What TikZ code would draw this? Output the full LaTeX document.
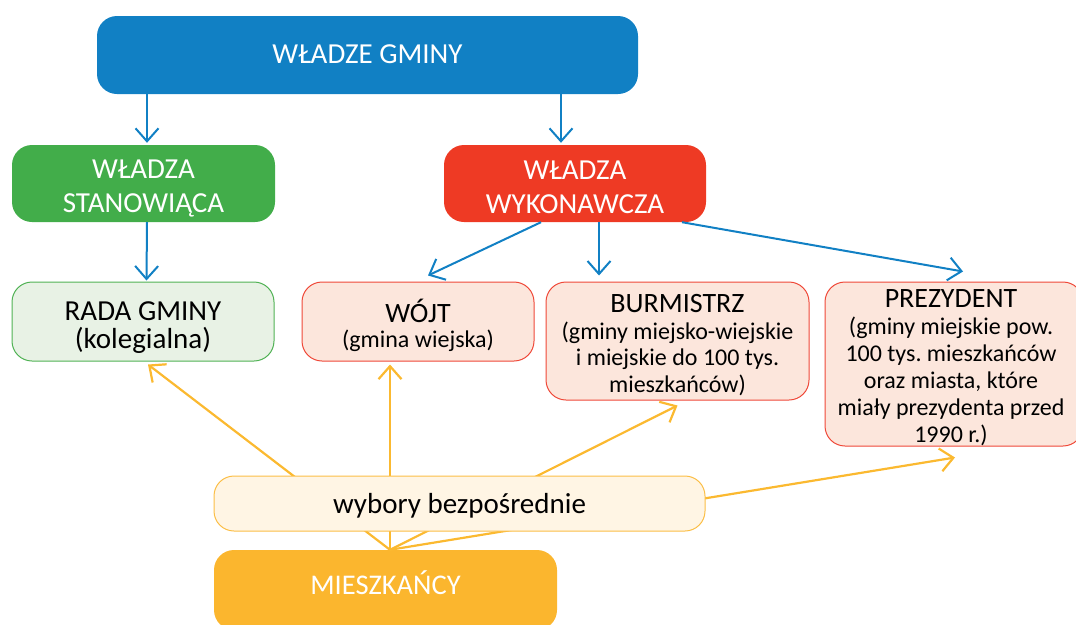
\documentclass[tikz,border=0pt]{standalone}
\usepackage{fontspec}
\setmainfont{Carlito}
\usetikzlibrary{arrows.meta,calc}
\definecolor{gminablue}{RGB}{17,128,196}
\definecolor{stangreen}{RGB}{66,173,74}
\definecolor{wykred}{RGB}{238,58,36}
\definecolor{mieszorange}{RGB}{251,182,46}
\definecolor{radafill}{RGB}{232,242,229}
\definecolor{radaline}{RGB}{80,178,84}
\definecolor{wykfill}{RGB}{252,230,220}
\definecolor{wykline}{RGB}{239,72,56}
\definecolor{wybfill}{RGB}{255,245,228}
\definecolor{wybline}{RGB}{251,190,70}
\definecolor{votearrow}{RGB}{251,185,48}
\newcommand{\titlefont}{\fontsize{29}{34}\selectfont}
\newcommand{\namefont}{\fontsize{28}{30}\selectfont}
\newcommand{\notefont}{\fontsize{24}{26.4}\selectfont}
\tikzset{
  solidbox/.style={rounded corners=20pt, inner sep=0pt},
  organbox/.style={rounded corners=20pt, inner sep=0pt, line width=1pt},
  whitetext/.style={align=center, inner sep=0pt, text=white, font=\titlefont},
  blacktext/.style={align=center, inner sep=0pt, text=black, font=\notefont},
  govarrow/.style={draw=gminablue, line width=2pt,
    -{Straight Barb[length=13pt,width=23pt,line width=2pt]}},
  votearrowline/.style={draw=votearrow, line width=2.2pt,
    -{Straight Barb[length=13pt,width=23pt,line width=2.2pt]}},
}
\begin{document}
\frenchspacing
\begin{tikzpicture}[x=1pt,y=-1pt]
\useasboundingbox (0,0) rectangle (1076,624);
\clip (0,0) rectangle (1076,624);

% upper level
\node[solidbox, fill=gminablue, minimum width=541pt, minimum height=78pt]
  (wladze) at (367.5,55) {};
\node[whitetext] (wladze-text) at ($(wladze)+(0,-1)$) {WŁADZE GMINY};
\node[solidbox, fill=stangreen, minimum width=263pt, minimum height=77pt]
  (stan) at (143.5,183.5) {};
\node[whitetext] (stan-text) at ($(stan)+(0,5)$) {WŁADZA\\STANOWIĄCA};
\node[solidbox, fill=wykred, minimum width=262pt, minimum height=77pt]
  (wyk) at (575,183.5) {};
\node[whitetext] (wyk-text) at ($(wyk)+(0,4)$) {WŁADZA\\WYKONAWCZA};

% organs
\node[organbox, fill=radafill, draw=radaline, minimum width=262pt, minimum height=79pt]
  (rada) at (143,321.5) {};
\node[blacktext, font=\fontsize{29}{28}\selectfont] (rada-text) at ($(rada)+(0,6)$)
  {RADA GMINY\\(kolegialna)};
\node[organbox, fill=wykfill, draw=wykline, minimum width=232pt, minimum height=79pt]
  (wojt) at (418,321.5) {};
\node[blacktext] (wojt-text) at ($(wojt)+(0,4)$)
  {\namefont WÓJT\\[-1pt](gmina wiejska)};
\node[organbox, fill=wykfill, draw=wykline, minimum width=263pt, minimum height=118pt]
  (burm) at (677.5,341) {};
\node[blacktext] (burm-text) at ($(burm)+(0,4)$)
  {\namefont BURMISTRZ\\(gminy miejsko-wiejskie\\i miejskie do 100 tys.\\mieszkańców)};
\node[organbox, fill=wykfill, draw=wykline, minimum width=258pt, minimum height=164pt]
  (prez) at (954,364) {};
\node[blacktext, font=\fontsize{24}{27}\selectfont] (prez-text) at ($(prez)+(-3,4)$)
  {\namefont PREZYDENT\\(gminy miejskie pow.\\100 tys. mieszkańców\\oraz miasta, które\\miały prezydenta przed\\1990 r.)};

% residents
\node[solidbox, fill=mieszorange, minimum width=343pt, minimum height=80pt]
  (mieszk) at (385.5,590) {};
\node[whitetext, font=\fontsize{28.5}{34}\selectfont] (mieszk-text) at (385.5,583)
  {MIESZKAŃCY};
\coordinate (src) at ([xshift=4.5pt]mieszk.north);

% structure of authority
\draw[govarrow] ($(stan.north |- wladze.south)+(3.5,0)$) -- ($(stan.north)+(3.5,-2)$);
\draw[govarrow] ($(wyk.north |- wladze.south)+(-14,0)$) -- ($(wyk.north)+(-14,-2)$);
\draw[govarrow] ($(stan.south)+(3.5,0)$) -- ($(rada.north)+(3.5,-1)$);
\draw[govarrow] ($(wyk.south)+(-34,0)$) -- ($(wojt.north)+(10,-6)$);
\draw[govarrow] ($(wyk.south)+(24,0)$) -- ($(wyk.south |- burm.north)+(24,-6)$);
\draw[govarrow] ($(wyk.south)+(107,0)$) -- ($(prez.north)+(9,-10)$);

% direct elections
\draw[votearrowline] (src) -- ($(rada.south)+(5,3)$);
\draw[votearrowline] (src) -- ($(wojt.south)+(-28,3)$);
\draw[votearrowline] (src) -- ($(burm.south)+(0,5)$);
\draw[votearrowline] (src) -- ($(prez.south)+(1,11)$);

\node[organbox, fill=wybfill, draw=wybline, minimum width=491pt, minimum height=55pt]
  (wybory) at (459.5,503.5) {};
\node[blacktext, font=\fontsize{29}{30}\selectfont] (wybory-text) at ($(wybory)+(0,2)$)
  {wybory bezpośrednie};
\end{tikzpicture}
\end{document}
